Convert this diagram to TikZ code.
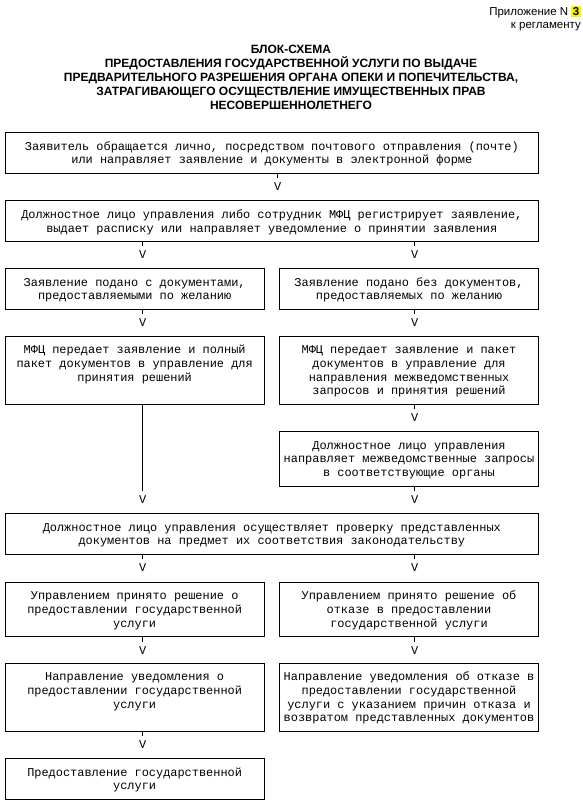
\documentclass[tikz,border=0pt]{standalone}
\usepackage{fontspec}
\usepackage{xcolor}
\setmainfont{Liberation Sans}
\newfontfamily\monofont{Liberation Mono}
\newcommand\boxfont{\monofont\fontsize{11.93}{13.6}\selectfont}

\begin{document}
\begin{tikzpicture}[x=1pt, y=-1pt,
  box/.style={draw, line width=0.7pt, inner xsep=0pt, inner ysep=6.9pt, align=center, font=\boxfont,
    execute at begin node={\spaceskip=0.6em\xspaceskip=0.6em\vrule height 11pt width 0pt},
    execute at end node={\vrule depth 2.6pt width 0pt}},
  wide/.style={box, text width=533.7pt},
  half/.style={box, text width=259.3pt},
  vmark/.style={font=\boxfont, inner sep=0pt},
  tick/.style={line width=0.6pt, shorten >=4.5pt},
  hdr/.style={font=\fontsize{11.5}{13}\selectfont, inner sep=0pt, anchor=base east}]
  \useasboundingbox (0,0) rectangle (582,805);

  \node[hdr] (app) at (581,15.5) {Приложение N \setlength\fboxsep{1.5pt}\colorbox{yellow}{\textbf{3}}};
  \node[hdr] (reg) at (581,28.5) {к регламенту};
  \node[font=\bfseries\fontsize{12}{13.9}\selectfont, align=center, inner sep=0pt, anchor=north] (title) at (291,45.1)
    {БЛОК-СХЕМА\\ПРЕДОСТАВЛЕНИЯ ГОСУДАРСТВЕННОЙ УСЛУГИ ПО ВЫДАЧЕ\\ПРЕДВАРИТЕЛЬНОГО РАЗРЕШЕНИЯ ОРГАНА ОПЕКИ И ПОПЕЧИТЕЛЬСТВА,\\ЗАТРАГИВАЮЩЕГО ОСУЩЕСТВЛЕНИЕ ИМУЩЕСТВЕННЫХ ПРАВ\\НЕСОВЕРШЕННОЛЕТНЕГО};

  \node[wide] (b1) at (271.85,152.9) {Заявитель обращается лично, посредством почтового отправления (почте)\\или направляет заявление и документы в электронной форме};
  \node[wide] (b2) at (271.85,221) {Должностное лицо управления либо сотрудник МФЦ регистрирует заявление,\\выдает расписку или направляет уведомление о принятии заявления};
  \node[half] (b3l) at (134.65,288.65) {Заявление подано с документами,\\предоставляемыми по желанию};
  \node[half] (b3r) at (409,288.65) {Заявление подано без документов,\\предоставляемых по желанию};
  \node[half] (b4l) at (134.65,370.15) {МФЦ передает заявление и полный\\пакет документов в управление для\\принятия решений\\};
  \node[half] (b4r) at (409,370.15) {МФЦ передает заявление и пакет\\документов в управление для\\направления межведомственных\\запросов и принятия решений};
  \node[half] (b5r) at (409,458.7) {Должностное лицо управления\\направляет межведомственные запросы\\в соответствующие органы};
  \node[wide] (b6) at (271.85,533.8) {Должностное лицо управления осуществляет проверку представленных\\документов на предмет их соответствия законодательству};
  \node[half] (b7l) at (134.65,609.2) {Управлением принято решение о\\предоставлении государственной\\услуги};
  \node[half] (b7r) at (409,609.2) {Управлением принято решение об\\отказе в предоставлении\\государственной услуги};
  \node[half] (b8l) at (134.65,697.15) {Направление уведомления о\\предоставлении государственной\\услуги\\};
  \node[half] (b8r) at (409,697.15) {Направление уведомления об отказе в\\предоставлении государственной\\услуги с указанием причин отказа и\\возвратом представленных документов};
  \node[half] (b9l) at (134.65,778.65) {Предоставление государственной\\услуги};

  \foreach \v/\x/\y in {v1/277.7/186.8, v2l/142.7/254.5, v2r/414.7/254.5, v3l/142.7/322.5, v3r/414.7/322.5,
      v4r/414.7/417.8, v5l/142.7/499.5, v5r/414.7/499.5, v6l/142.7/567.8, v6r/414.7/567.8,
      v7l/142.7/650.2, v7r/414.7/650.2, v8l/142.7/744.5}
    \node[vmark] (\v) at (\x,\y) {V};

  \foreach \v/\b in {v1/b1, v2l/b2, v2r/b2, v3l/b3l, v3r/b3r, v4r/b4r, v5l/b4l, v5r/b5r,
      v6l/b6, v6r/b6, v7l/b7l, v7r/b7r, v8l/b8l}
    \draw[tick] (\v |- \b.south) -- (\v.north);
\end{tikzpicture}
\end{document}
